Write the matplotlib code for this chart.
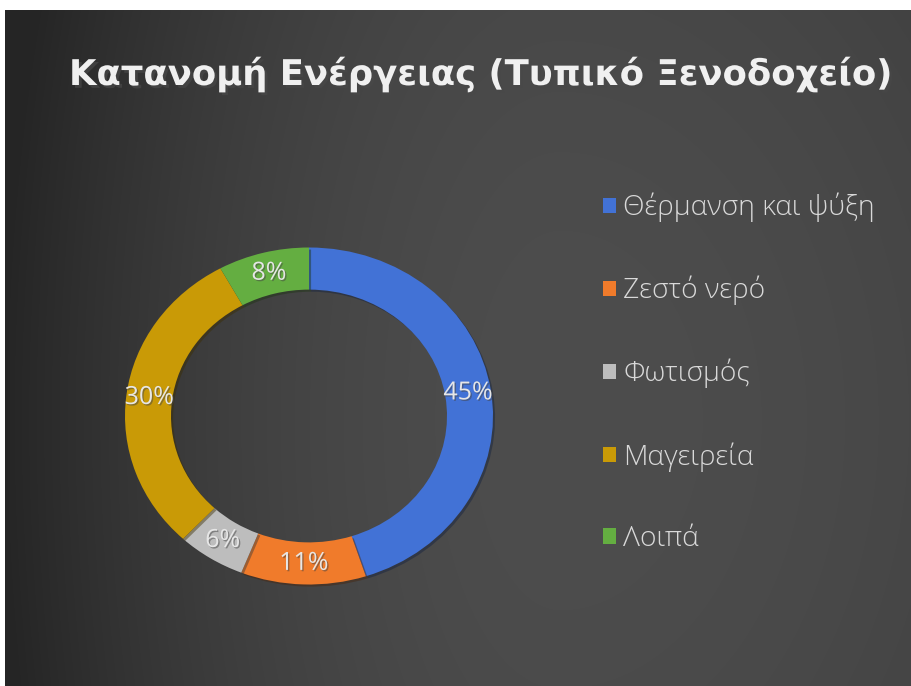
import matplotlib
matplotlib.use("Agg")
import matplotlib.pyplot as plt
import matplotlib.patheffects as pe
from matplotlib.patches import Patch
import numpy as np

# -------------------------- Data --------------------------

categories = ["Θέρμανση και ψύξη", "Ζεστό νερό", "Φωτισμός", "Μαγειρεία", "Λοιπά"]
shares = [45, 11, 6, 30, 8]
colors = ["#4272d6", "#f07b2b", "#bdbdbd", "#c99a06", "#64ae41"]
title = "Κατανομή Ενέργειας (Τυπικό Ξενοδοχείο)"

W, H = 912, 686

plt.rcParams["font.family"] = ["Open Sans", "DejaVu Sans"]

fig = plt.figure(figsize=(W / 100, H / 100), dpi=100, facecolor="white")

# -------------------------- Background panel --------------------------

bg = fig.add_axes([5 / W, 0, (W - 5) / W, (H - 10) / H], zorder=-10)
yy, xx = np.mgrid[10:H, 5:W].astype(float)
cx, cy = 560.0, 420.0
dx = np.where(xx < cx, (xx - cx) / 560.0, (xx - cx) / 900.0)
dy = (yy - cy) / 1200.0
r2 = np.clip(dx ** 2 + dy ** 2, 0, 1)
shade = (0x4d - (0x4d - 0x25) * r2) / 255.0
bg.imshow(np.dstack([shade, shade, shade]), aspect="auto", interpolation="bilinear")
bg.set_axis_off()

# -------------------------- Donut --------------------------

ax = fig.add_axes([125 / W, 101.5 / H, 368 / W, 337 / H])
wedges, _, autotexts = ax.pie(
    shares,
    colors=colors,
    startangle=90,
    counterclock=False,
    radius=1.0,
    wedgeprops=dict(width=0.25, linewidth=0),
    autopct=lambda p: f"{p:.0f}%",
    pctdistance=0.875,
    textprops=dict(color="#e6e6e6", fontsize=18),
)
for w in wedges:
    w.set_path_effects([pe.SimplePatchShadow(offset=(1.5, -1.5), alpha=0.45), pe.Normal()])
for t in autotexts:
    t.set_path_effects([pe.withSimplePatchShadow(offset=(1, -1), alpha=0.5)])
ax.set_aspect("auto")
ax.set_xlim(-1, 1)
ax.set_ylim(-1, 1)

# -------------------------- Title --------------------------

fig.text(
    480 / W, 1 - 74 / H, title,
    ha="center", va="center", fontsize=25.5, fontweight="bold", color="#f0f0f0",
    family="DejaVu Sans",
    path_effects=[pe.withSimplePatchShadow(offset=(2, -2), alpha=0.7)],
)

# -------------------------- Legend --------------------------

handles = [Patch(facecolor=c, edgecolor="none") for c in colors]
leg = fig.legend(
    handles, categories,
    loc="center left", bbox_to_anchor=(603 / W, 1 - 373 / H),
    frameon=False, labelcolor="#d9d9d9",
    prop=dict(family=["Open Sans", "DejaVu Sans"], weight="light", size=20.3),
    handlelength=0.47, handleheight=0.47, handletextpad=0.25,
    labelspacing=1.9, borderpad=0, borderaxespad=0,
)

fig.savefig("out.png", dpi=100, facecolor="white")
